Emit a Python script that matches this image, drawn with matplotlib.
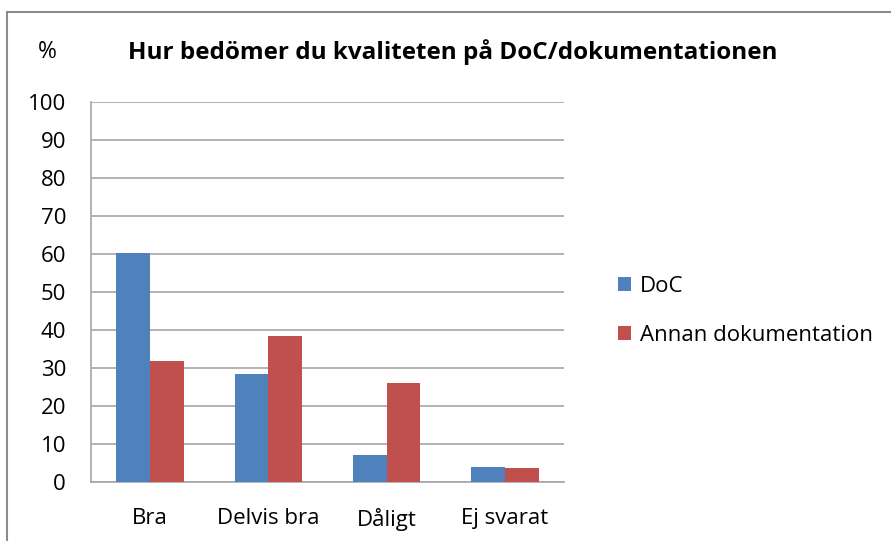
import matplotlib
matplotlib.use("Agg")
import matplotlib.pyplot as plt
import numpy as np

categories = ["Bra", "Delvis bra", "Dåligt", "Ej svarat"]
doc_values = [60.2, 28.5, 7.0, 4.0]
annan_values = [31.8, 38.3, 26.1, 3.7]
series_names = ["DoC", "Annan dokumentation"]
yticks = [0, 10, 20, 30, 40, 50, 60, 70, 80, 90, 100]

plt.rcParams['font.family'] = ['Open Sans', 'DejaVu Sans']

W, H = 891, 541
fig = plt.figure(figsize=(W / 100, H / 100), dpi=100)
ax = fig.add_axes([91 / W, 1 - 482 / H, (564 - 91) / W, (482 - 102) / H])

x = np.arange(len(categories))
bw = 1 / 3.5
ax.bar(x - bw / 2, doc_values, bw, color="#4f81bd", label=series_names[0], zorder=3)
ax.bar(x + bw / 2, annan_values, bw, color="#c0504d", label=series_names[1], zorder=3)

ax.set_xlim(-0.5, len(categories) - 0.5)
ax.set_ylim(0, 100)
ax.set_yticks(yticks)
ax.set_xticks(x)
ax.set_xticklabels(categories, fontsize=16)
ax.tick_params(axis="y", length=0, pad=18, labelsize=16)
ax.tick_params(axis="x", length=0, pad=19)
ax.yaxis.grid(True, color="#a6a6a6", linewidth=1.2, zorder=0)
for s in ["top", "right"]:
    ax.spines[s].set_visible(False)
for s in ["left", "bottom"]:
    ax.spines[s].set_color("#a6a6a6")
    ax.spines[s].set_linewidth(1.2)

fig.text(453 / W, 1 - 52 / H, "Hur bedömer du kvaliteten på DoC/dokumentationen",
         fontsize=17.5, fontweight="bold", ha="center", va="center")
fig.text(47 / W, 1 - 52 / H, "%", fontsize=16.5, ha="center", va="center")

leg = fig.legend(loc="center left", bbox_to_anchor=(598 / W, 1 - 311 / H),
                 frameon=False, fontsize=16, handlelength=0.6, handleheight=0.6,
                 handletextpad=0.4, labelspacing=1.25)

# outer chart border
border = plt.Rectangle((7 / W, -0.1), 1.2, 1 - 12 / H + 0.1, transform=fig.transFigure,
                       fill=False, edgecolor="#8c8c8c", linewidth=1.5)
fig.add_artist(border)

fig.savefig("out.png", dpi=100)
